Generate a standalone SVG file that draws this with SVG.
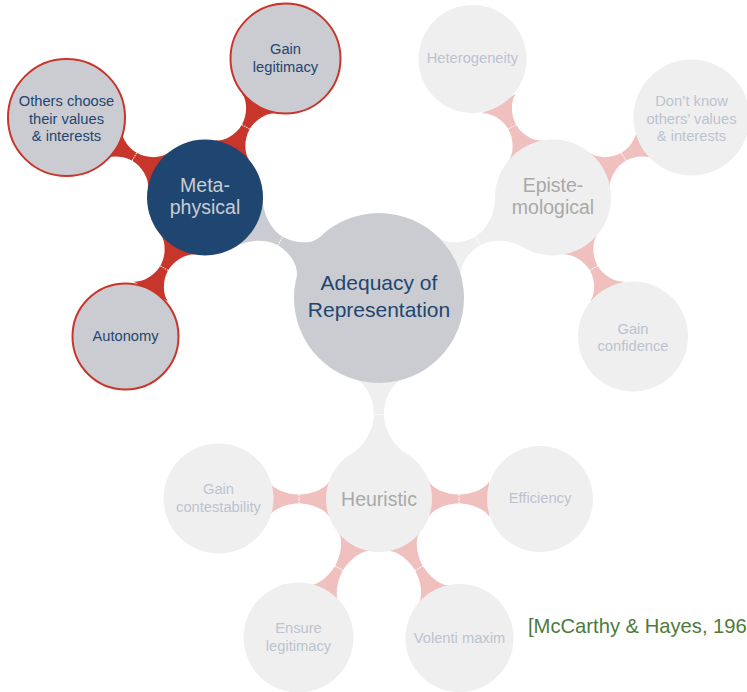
<svg xmlns="http://www.w3.org/2000/svg" xmlns:xlink="http://www.w3.org/1999/xlink" width="747" height="692" viewBox="0 0 747 692">
<style>
  text { font-family: "Liberation Sans", Arial, sans-serif; text-anchor: middle; }
  .root-c { fill: #cbccd1; }
  .root-t { fill: #1f4670; font-size: 21px; }
  .meta-c { fill: #1f4670; }
  .meta-t { fill: #cbccd1; font-size: 19.5px; }
  .mchild-c { fill: #cbccd1; stroke: #c8352b; stroke-width: 2; }
  .mchild-t { fill: #1f4670; font-size: 14.7px; }
  .faint-c { fill: #efefef; }
  .faint-t { fill: #a9a9a9; font-size: 19.5px; }
  .fchild-t { fill: #bcc3cf; font-size: 14.7px; }
  .neck { stroke: #ffffff; stroke-width: 1; stroke-dasharray: 1.5 1; fill: none; }
  .cite { fill: #4f7a3a; font-size: 20.2px; text-anchor: start; }
</style>
<defs>
  <!-- root (r85) to level-1 child (r58), d=201 -->
  <path id="barL1a" d="M 81.7,-23.4 C 84.5,-13.8 98,-5 114,-5 C 130,-5 145.1,-18.4 149.8,-27.2 L 149.8,27.2 C 145.1,18.4 130,5 114,5 C 98,5 84.5,13.8 81.7,23.4 Z"/>
  <!-- root (r85) to heuristic (r53), d=201 -->
  <path id="barL1b" d="M 81.7,-23.4 C 84.5,-13.8 99.5,-5 116.5,-5 C 133.5,-5 150.1,-17.8 155.1,-26.5 L 155.1,26.5 C 150.1,17.8 133.5,5 116.5,5 C 99.5,5 84.5,13.8 81.7,23.4 Z"/>
  <!-- level-1 (r58) to level-2 (r54), d=160 -->
  <path id="barL2" d="M 54.5,-19.8 C 57.2,-12.3 69.5,-4.5 81.5,-4.5 C 93.5,-4.5 105.6,-12.3 108.5,-19.8 L 108.5,19.8 C 105.6,12.3 93.5,4.5 81.5,4.5 C 69.5,4.5 57.2,12.3 54.5,19.8 Z"/>
  <!-- heuristic (r53) to level-2 (r53), d=160 -->
  <path id="barL2h" d="M 49.8,-18.1 C 52.3,-11.2 67,-4.5 80,-4.5 C 93,-4.5 107.7,-11.2 110.2,-18.1 L 110.2,18.1 C 107.7,11.2 93,4.5 80,4.5 C 67,4.5 52.3,11.2 49.8,18.1 Z"/>
</defs>

<g id="connectors">
  <g transform="translate(379,298) rotate(-150)"><use xlink:href="#barL1a" href="#barL1a" fill="#cbccd1"/><line class="neck" x1="114" y1="-5" x2="114" y2="5"/></g>
  <g transform="translate(379,298) rotate(-30)"><use xlink:href="#barL1a" href="#barL1a" fill="#efefef"/><line class="neck" x1="114" y1="-5" x2="114" y2="5"/></g>
  <g transform="translate(379,298) rotate(90)"><use xlink:href="#barL1b" href="#barL1b" fill="#efefef"/><line class="neck" x1="116.5" y1="-5" x2="116.5" y2="5"/></g>

  <g transform="translate(205,197.5) rotate(-60)"><use xlink:href="#barL2" href="#barL2" fill="#c8352b"/><line class="neck" x1="81.5" y1="-4.5" x2="81.5" y2="4.5"/></g>
  <g transform="translate(205,197.5) rotate(-150)"><use xlink:href="#barL2" href="#barL2" fill="#c8352b"/><line class="neck" x1="81.5" y1="-4.5" x2="81.5" y2="4.5"/></g>
  <g transform="translate(205,197.5) rotate(120)"><use xlink:href="#barL2" href="#barL2" fill="#c8352b"/><line class="neck" x1="81.5" y1="-4.5" x2="81.5" y2="4.5"/></g>

  <g transform="translate(553,197.5) rotate(-120)"><use xlink:href="#barL2" href="#barL2" fill="#efc0bd"/><line class="neck" x1="81.5" y1="-4.5" x2="81.5" y2="4.5"/></g>
  <g transform="translate(553,197.5) rotate(-30)"><use xlink:href="#barL2" href="#barL2" fill="#efc0bd"/><line class="neck" x1="81.5" y1="-4.5" x2="81.5" y2="4.5"/></g>
  <g transform="translate(553,197.5) rotate(60)"><use xlink:href="#barL2" href="#barL2" fill="#efc0bd"/><line class="neck" x1="81.5" y1="-4.5" x2="81.5" y2="4.5"/></g>

  <g transform="translate(379,499) rotate(180)"><use xlink:href="#barL2h" href="#barL2h" fill="#efc0bd"/><line class="neck" x1="80" y1="-4.5" x2="80" y2="4.5"/></g>
  <g transform="translate(379,499) rotate(0)"><use xlink:href="#barL2h" href="#barL2h" fill="#efc0bd"/><line class="neck" x1="80" y1="-4.5" x2="80" y2="4.5"/></g>
  <g transform="translate(379,499) rotate(120)"><use xlink:href="#barL2h" href="#barL2h" fill="#efc0bd"/><line class="neck" x1="80" y1="-4.5" x2="80" y2="4.5"/></g>
  <g transform="translate(379,499) rotate(60)"><use xlink:href="#barL2h" href="#barL2h" fill="#efc0bd"/><line class="neck" x1="80" y1="-4.5" x2="80" y2="4.5"/></g>
</g>

<g id="root">
  <circle class="root-c" cx="379" cy="298" r="85"/>
  <text class="root-t" x="379" y="290">Adequacy of</text>
  <text class="root-t" x="379" y="317">Representation</text>
</g>

<g id="metaphysical">
  <circle class="meta-c" cx="205" cy="197.5" r="58"/>
  <text class="meta-t" x="205" y="192">Meta-</text>
  <text class="meta-t" x="205" y="214">physical</text>
</g>
<g id="gain-legitimacy">
  <circle class="mchild-c" cx="285.5" cy="58.5" r="55"/>
  <text class="mchild-t" x="285.5" y="54">Gain</text>
  <text class="mchild-t" x="285.5" y="72">legitimacy</text>
</g>
<g id="others-choose">
  <circle class="mchild-c" cx="66.5" cy="117.5" r="58.5"/>
  <text class="mchild-t" x="66.5" y="106">Others choose</text>
  <text class="mchild-t" x="66.5" y="123.5">their values</text>
  <text class="mchild-t" x="66.5" y="141">&amp; interests</text>
</g>
<g id="autonomy">
  <circle class="mchild-c" cx="125.5" cy="336.5" r="53"/>
  <text class="mchild-t" x="125.5" y="341">Autonomy</text>
</g>

<g id="epistemological">
  <circle class="faint-c" cx="553" cy="197.5" r="58"/>
  <text class="faint-t" x="553" y="192">Episte-</text>
  <text class="faint-t" x="553" y="214">mological</text>
</g>
<g id="heterogeneity">
  <circle class="faint-c" cx="472.5" cy="59" r="54"/>
  <text class="fchild-t" x="472.5" y="63">Heterogeneity</text>
</g>
<g id="dont-know">
  <circle class="faint-c" cx="691.5" cy="117.5" r="58"/>
  <text class="fchild-t" x="691.5" y="106">Don’t know</text>
  <text class="fchild-t" x="691.5" y="123.5">others’ values</text>
  <text class="fchild-t" x="691.5" y="141">&amp; interests</text>
</g>
<g id="gain-confidence">
  <circle class="faint-c" cx="633" cy="336.5" r="55"/>
  <text class="fchild-t" x="633" y="334">Gain</text>
  <text class="fchild-t" x="633" y="351">confidence</text>
</g>

<g id="heuristic">
  <circle class="faint-c" cx="379" cy="499" r="53"/>
  <text class="faint-t" x="379" y="506">Heuristic</text>
</g>
<g id="gain-contestability">
  <circle class="faint-c" cx="218.5" cy="498.5" r="55"/>
  <text class="fchild-t" x="218.5" y="494">Gain</text>
  <text class="fchild-t" x="218.5" y="512">contestability</text>
</g>
<g id="efficiency">
  <circle class="faint-c" cx="540" cy="499" r="53"/>
  <text class="fchild-t" x="540" y="503">Efficiency</text>
</g>
<g id="ensure-legitimacy">
  <circle class="faint-c" cx="298.5" cy="637.5" r="55"/>
  <text class="fchild-t" x="298.5" y="633">Ensure</text>
  <text class="fchild-t" x="298.5" y="651">legitimacy</text>
</g>
<g id="volenti-maxim">
  <circle class="faint-c" cx="459.5" cy="638" r="54"/>
  <text class="fchild-t" x="459.5" y="643">Volenti maxim</text>
</g>

<text class="cite" x="528" y="633">[McCarthy &amp; Hayes, 196</text>
</svg>
